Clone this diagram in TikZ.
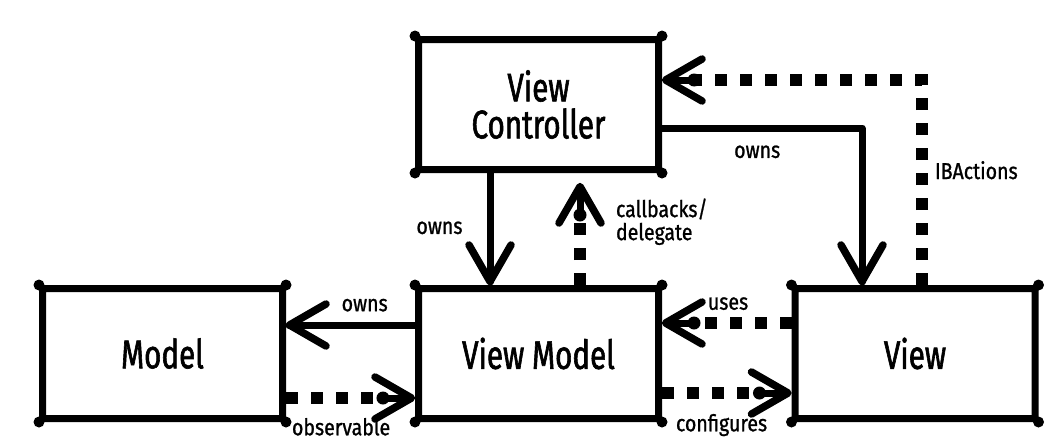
\documentclass[tikz,border=0pt]{standalone}
\usepackage{fontspec}
\setmainfont{Fira Sans}
\newfontfamily\boxfont{Fira Sans}[FakeStretch=0.74,FakeBold=1.5]
\newfontfamily\lblfont{Fira Sans}[FakeStretch=0.85,FakeBold=1]
\usetikzlibrary{decorations.markings}
\tikzset{
  box/.style={draw,line width=7pt,minimum width=240pt,minimum height=130pt,align=center,
    rounded corners=1.5pt,font=\boxfont\fontsize{40}{37}\selectfont},
  lbl/.style={font=\lblfont\fontsize{23}{23}\selectfont,inner sep=1pt},
  headmark/.style={postaction={decorate,decoration={markings,mark=at position 0.9999 with
    {\draw[solid,shorten >=0pt,line width=7.5pt,line cap=round,line join=round] (-40pt,21pt) -- (-3.5pt,0pt) -- (-40pt,-21pt);}}}},
  solidline/.style={line width=7pt,line cap=round,line join=round,shorten >=3pt,headmark},
  dotline/.style={line width=12pt,dash pattern=on 12pt off 13pt,shorten >=32pt,headmark,
    postaction={decorate,decoration={markings,mark=at position 0.9999 with
    {\draw[solid,shorten >=0pt,line width=7pt] (-32pt,0pt) -- (-4pt,0pt); \fill (-32pt,0pt) circle (6.5pt);}}}},
}
\begin{document}
\begin{tikzpicture}[x=1pt,y=-1pt]
	\useasboundingbox (0,0) rectangle (1054,440);
	% boxes
	\node[box] (vc) at (538.5,104.5) {View\\Controller};
	\node[box] (model) at (162.5,353.5) {Model};
	\node[box] (vm) at (538.5,353.5) {View Model};
	\node[box] (view) at (915,353.5) {View};
	\foreach \n in {vc,model,vm,view}
		\foreach \c in {north east,north west,south east,south west}
			\fill (\n.\c) circle (5.5pt);
	% connectors
	\draw[dotline] ([xshift=7pt]view.north) |- node[lbl,pos=0.28,right=6pt]{IBActions} ([yshift=24.5pt]vc.east);
	\draw[solidline] ([yshift=-23.5pt]vc.east) -| node[lbl,pos=0.238,below=13pt]{owns} ([xshift=-53pt]view.north);
	\draw[solidline] ([xshift=-48.5pt]vc.south) -- node[lbl,pos=0.49,left=23pt]{owns} ([xshift=-48.5pt]vm.north);
	\draw[dotline] ([xshift=41.5pt]vm.north) -- node[lbl,pos=0.62,right=29pt,align=left]{callbacks/\\delegate} ([xshift=41.5pt,yshift=-10pt]vc.south);
	\draw[solidline] ([yshift=28.5pt]vm.west) -- node[lbl,pos=0.39,above=9pt]{owns} ([yshift=28.5pt]model.east);
	\draw[dotline] ([yshift=-44.5pt]model.east) -- node[lbl,pos=0,anchor=north west,xshift=-1pt,yshift=-13pt]{observable} ([yshift=-44.5pt]vm.west);
	\draw[dotline] ([yshift=30.5pt]view.west) -- node[lbl,pos=0.49,above=6pt]{uses} ([yshift=30.5pt]vm.east);
	\draw[dotline] ([yshift=-39.5pt]vm.east) -- node[lbl,pos=0.46,below=14pt]{configures} ([yshift=-39.5pt]view.west);
\end{tikzpicture}
\end{document}
